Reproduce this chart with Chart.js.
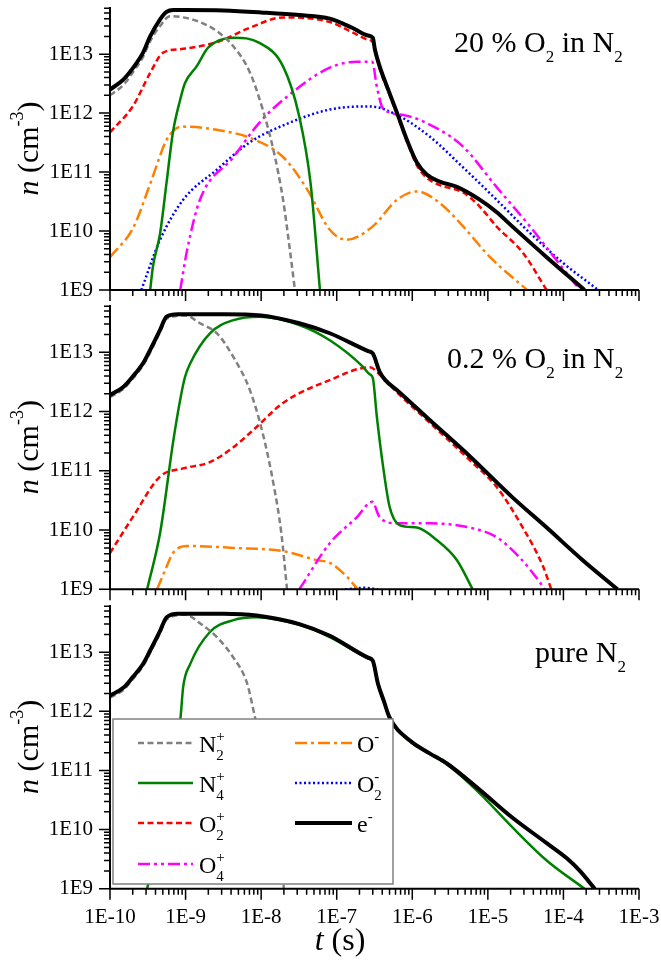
<!DOCTYPE html>
<html>
<head>
<meta charset="utf-8">
<script src="https://cdn.jsdelivr.net/npm/chart.js@4.4.0/dist/chart.umd.min.js"></script>
<style>
html, body { margin: 0; padding: 0; background: #fff; }
#wrap { position: relative; width: 661px; height: 965px; overflow: hidden; }
canvas { position: absolute; left: 0; }
</style>
</head>
<body>
<div id="wrap">
  <canvas id="c1" width="661" height="310" style="top:0px"></canvas>
  <canvas id="c2" width="661" height="310" style="top:300px"></canvas>
  <canvas id="c3" width="661" height="365" style="top:600px"></canvas>
</div>
<script>
// axis ticks
const xMajor = [1e-10, 1e-9, 1e-8, 1e-7, 1e-6, 1e-5, 1e-4, 1e-3];
const xLabels = ['1E-10', '1E-9', '1E-8', '1E-7', '1E-6', '1E-5', '1E-4', '1E-3'];
const yMajor = [1e9, 1e10, 1e11, 1e12, 1e13];
const yLabels = ['1E9', '1E10', '1E11', '1E12', '1E13'];
const yMax = 6.3e13;

// [t (s), n (cm^-3)] -- 20 % O2 in N2
const p1_e = [[1e-10,2.5e12],[1.5e-10,3.7e12],[2.03e-10,5.9e12],[2.75e-10,1.07e13],[3.4e-10,2.0e13],[4.6e-10,3.9e13],[5.6e-10,5.2e13],[6.9e-10,5.6e13],[1e-9,5.6e13],[3.2e-9,5.5e13],[1e-8,5.1e13],[3.2e-8,4.6e13],[8.1e-8,4.0e13],[1.6e-7,2.8e13],[2.6e-7,2.07e13],[3.0e-7,1.9e13],[3.2e-7,1.2e13],[3.7e-7,6.2e12],[4.8e-7,2.5e12],[6.3e-7,1.0e12],[8.5e-7,3.5e11],[1.15e-6,1.45e11],[1.55e-6,9.1e10],[2.3e-6,6.9e10],[3.9e-6,5.6e10],[7.8e-6,3.4e10],[1.3e-5,2.1e10],[2.1e-5,1.2e10],[6.0e-5,3.6e9],[1.9e-4,1e9]];
const p1_N2p = [[1e-10,2.0e12],[1.5e-10,3.0e12],[2.03e-10,5.0e12],[2.75e-10,9.1e12],[3.4e-10,1.66e13],[4.6e-10,3.0e13],[6.2e-10,4.4e13],[9.3e-10,4.2e13],[1.55e-9,3.5e13],[2.6e-9,2.45e13],[4.3e-9,1.35e13],[7.1e-9,4.9e12],[1.05e-8,1.15e12],[1.45e-8,2.4e11],[1.95e-8,3.4e10],[2.4e-8,4.8e9],[2.8e-8,1e9]];
const p1_N4p = [[3.4e-10,1e9],[3.7e-10,2.5e9],[4.6e-10,9.1e9],[5.6e-10,6.6e10],[6.8e-10,4.7e11],[8.5e-10,1.7e12],[9.8e-10,3.2e12],[1.4e-9,6.2e12],[2.0e-9,1.3e13],[4.3e-9,1.9e13],[9.5e-9,1.55e13],[1.95e-8,6.2e12],[3.2e-8,8.7e11],[4.5e-8,6.6e10],[6.0e-8,1e9]];
const p1_O2p = [[1e-10,4.7e11],[2.0e-10,1.3e12],[3.4e-10,4.8e12],[5.0e-10,1.05e13],[9.3e-10,1.23e13],[2.6e-9,1.6e13],[7.1e-9,2.8e13],[1.95e-8,4.2e13],[8.1e-8,3.5e13],[1.6e-7,2.35e13],[2.6e-7,1.75e13],[3.0e-7,1.6e13],[3.7e-7,5.6e12],[4.8e-7,2.35e12],[6.3e-7,9.5e11],[8.5e-7,3.3e11],[1.15e-6,1.3e11],[1.55e-6,8e10],[2.3e-6,6.0e10],[4.7e-6,4.5e10],[7.8e-6,2.6e10],[1.3e-5,1.2e10],[2.9e-5,4.3e9],[6.0e-5,1e9]];
const p1_O4p = [[8.5e-10,1e9],[1.05e-9,4.8e9],[1.55e-9,3.4e10],[4.3e-9,1.8e11],[9.5e-9,6.9e11],[2.2e-8,1.9e12],[8.1e-8,5.9e12],[1.85e-7,7.4e12],[2.95e-7,7.4e12],[3.4e-7,2.8e12],[4.1e-7,1.2e12],[7.6e-7,9.3e11],[2.3e-6,5.2e11],[4.7e-6,2.7e11],[1.3e-5,5.6e10],[3.6e-5,1.2e10],[8.1e-5,3.2e9],[1.65e-4,1e9]];
const p1_Om = [[1e-10,3.6e9],[2.04e-10,1.15e10],[3.4e-10,6.3e10],[5.6e-10,3.5e11],[7.5e-10,5.5e11],[9.3e-10,5.9e11],[2.6e-9,5.2e11],[7.1e-9,3.8e11],[1.95e-8,1.8e11],[4.1e-8,5.0e10],[8.1e-8,1.05e10],[1.35e-7,7.1e9],[3.0e-7,1.2e10],[6.3e-7,3.4e10],[1.15e-6,4.7e10],[2.3e-6,3.0e10],[4.7e-6,1.2e10],[1.07e-5,3.6e9],[3.3e-5,1e9]];
const p1_O2m = [[2.6e-10,1e9],[4.6e-10,7.1e9],[9.3e-10,3.4e10],[2.6e-9,1.1e11],[7.1e-9,3.2e11],[2.4e-8,6.9e11],[8.1e-8,1.15e12],[2.75e-7,1.3e12],[6.3e-7,9.3e11],[1.7e-6,4.0e11],[4.7e-6,1.2e11],[1.3e-5,3.4e10],[3.6e-5,9.3e9],[9.8e-5,2.9e9],[2.9e-4,1e9]];

// 0.2 % O2 in N2
const p2_e = [[1e-10,1.9e12],[1.5e-10,2.6e12],[2.0e-10,3.9e12],[2.75e-10,6.6e12],[3.4e-10,1.1e13],[4.6e-10,2.4e13],[5.6e-10,4.0e13],[7.9e-10,4.4e13],[3.2e-9,4.4e13],[1e-8,4.2e13],[3.2e-8,3.1e13],[8.1e-8,2.1e13],[2.6e-7,1.05e13],[3.0e-7,9.6e12],[3.7e-7,4.7e12],[4.4e-7,3.4e12],[6.3e-7,2.3e12],[1.7e-6,7.2e11],[5.8e-6,1.75e11],[2.1e-5,3.6e10],[6.0e-5,1.1e10],[1.8e-4,3.1e9],[5.2e-4,1e9]];
const p2_N2p = [[1e-10,1.75e12],[1.5e-10,2.4e12],[2.0e-10,3.6e12],[2.75e-10,6.1e12],[3.4e-10,1.0e13],[4.6e-10,2.2e13],[5.6e-10,3.7e13],[1e-9,4.2e13],[1.55e-9,3.1e13],[2.6e-9,2.1e13],[4.3e-9,8.3e12],[7.1e-9,2.3e12],[1.05e-8,4.3e11],[1.45e-8,6.2e10],[1.85e-8,8.9e9],[2.2e-8,1e9]];
const p2_N4p = [[3.1e-10,1e9],[4.6e-10,8.9e9],[6.9e-10,3.3e11],[8.5e-10,1.6e12],[9.8e-10,3.8e12],[1.15e-9,6.5e12],[2.1e-9,2.1e13],[4.3e-9,3.5e13],[9.5e-9,4.0e13],[3.2e-8,2.9e13],[8.1e-8,1.6e13],[2.2e-7,5.8e12],[2.7e-7,4.3e12],[3.0e-7,3.7e12],[3.4e-7,8.1e11],[4.1e-7,1.2e11],[5.0e-7,2.5e10],[6.9e-7,1.2e10],[1.15e-6,1.1e10],[2.1e-6,6.8e9],[3.9e-6,3.1e9],[6.3e-6,1e9]];
const p2_O2p = [[1e-10,4.1e9],[2.0e-10,1.65e10],[4.6e-10,8e10],[9.3e-10,1.1e11],[2.1e-9,1.4e11],[4.3e-9,2.5e11],[8.7e-9,5.5e11],[1.95e-8,1.4e12],[8.1e-8,3.4e12],[2.75e-7,5.6e12],[3.7e-7,4.2e12],[6.3e-7,2.1e12],[1.7e-6,6.5e11],[5.8e-6,1.5e11],[1.3e-5,5.4e10],[2.9e-5,1.1e10],[5.4e-5,2.4e9],[6.9e-5,1e9]];
const p2_O4p = [[3.2e-8,1e9],[8.1e-8,6.0e9],[1.85e-7,1.65e10],[2.95e-7,3.0e10],[3.7e-7,1.65e10],[6.3e-7,1.3e10],[1.7e-6,1.3e10],[5.8e-6,1.1e10],[1.3e-5,7.6e9],[2.6e-5,3.5e9],[4.9e-5,1.3e9],[5.6e-5,1e9]];
const p2_Om = [[4.2e-10,1e9],[5.6e-10,2.4e9],[6.8e-10,4.1e9],[1.05e-9,5.4e9],[4.3e-9,5.0e9],[1.95e-8,4.4e9],[5.5e-8,3.1e9],[8.1e-8,2.8e9],[1.35e-7,1.65e9],[1.9e-7,1e9]];
const p2_O2m = [[1.3e-7,1e9],[2.3e-7,1.06e9],[3.5e-7,1e9]];

// pure N2
const p3_e = [[1e-10,1.85e12],[1.5e-10,2.5e12],[2.0e-10,3.8e12],[2.75e-10,6.4e12],[3.4e-10,1.07e13],[4.6e-10,2.3e13],[5.6e-10,3.9e13],[7.9e-10,4.5e13],[3.2e-9,4.5e13],[8.7e-9,4.2e13],[3.2e-8,3.0e13],[8.1e-8,1.9e13],[2.6e-7,8.1e12],[3.0e-7,7.2e12],[3.5e-7,3.0e12],[4.2e-7,1.5e12],[5.0e-7,7.9e11],[9.3e-7,3.2e11],[1.7e-6,1.95e11],[2.9e-6,1.3e11],[7.8e-6,4.7e10],[2.1e-5,1.6e10],[6.0e-5,5.9e9],[1.1e-4,3.3e9],[1.65e-4,2.0e9],[2.6e-4,1e9]];
const p3_N2p = [[1e-10,1.7e12],[1.5e-10,2.3e12],[2.0e-10,3.5e12],[2.75e-10,5.9e12],[3.4e-10,9.8e12],[4.6e-10,2.1e13],[5.6e-10,3.6e13],[1e-9,4.3e13],[1.6e-9,3.0e13],[2.6e-9,1.8e13],[4.3e-9,8.1e12],[6.5e-9,3.0e12],[8.3e-9,7.9e11],[1.1e-8,1.6e11],[1.6e-8,1.6e10],[2.0e-8,1e9]];
const p3_N4p = [[3.1e-10,1e9],[4.6e-10,8.9e9],[6.8e-10,2.0e11],[8.5e-10,7.1e11],[9.3e-10,2.6e12],[1.15e-9,6.3e12],[2.1e-9,2.2e13],[4.3e-9,3.5e13],[8.7e-9,3.9e13],[3.2e-8,2.9e13],[8.1e-8,1.8e13],[2.6e-7,7.8e12],[3.0e-7,6.9e12],[3.5e-7,2.9e12],[4.2e-7,1.45e12],[5.0e-7,7.6e11],[9.3e-7,3.1e11],[1.7e-6,1.9e11],[2.9e-6,1.26e11],[7.8e-6,4.1e10],[2.1e-5,1.1e10],[6.0e-5,3.0e9],[1.9e-4,1e9]];

const styles = {
  e:   { color: '#000000', width: 4,   dash: [] },
  N2p: { color: '#808080', width: 2.5, dash: [6, 3.5] },
  N4p: { color: '#008000', width: 2.5, dash: [] },
  O2p: { color: '#ff0000', width: 2.5, dash: [6, 3.5] },
  O4p: { color: '#ff00ff', width: 2.5, dash: [12, 4, 3, 4, 3, 4] },
  Om:  { color: '#ff8000', width: 2.5, dash: [12, 4, 3, 4] },
  O2m: { color: '#0000ff', width: 2.5, dash: [2, 2.5] }
};

const FONT = '"Liberation Serif", "Times New Roman", serif';

function buildTicks(major, labels, max) {
  const out = [];
  major.forEach((v, i) => {
    for (let m = 1; m <= 9; m++) {
      const val = m * v;
      if (val > max * 1.0001) break;
      out.push({ value: val, major: m === 1, label: m === 1 ? labels[i] : '' });
    }
  });
  return out;
}

function line(key, pts) {
  const s = styles[key];
  return {
    data: pts.map(p => ({ x: p[0], y: p[1] })),
    borderColor: s.color,
    borderWidth: s.width,
    borderDash: s.dash,
    borderCapStyle: 'butt',
    borderJoinStyle: 'round',
    pointRadius: 0,
    fill: false,
    cubicInterpolationMode: 'monotone'
  };
}

// text with sub/superscripts
function drawRich(ctx, parts, x, y, o) {
  const big = it => (it ? 'italic ' : '') + o.size + 'px ' + FONT;
  const small = o.small + 'px ' + FONT;
  const w = parts.map(p => {
    ctx.font = big(p.i);
    const a = ctx.measureText(p.t).width;
    ctx.font = small;
    const b = Math.max(p.sub ? ctx.measureText(p.sub).width : 0, p.sup ? ctx.measureText(p.sup).width : 0);
    return [a, b];
  });
  const total = w.reduce((s, v) => s + v[0] + v[1], 0);
  let cx = o.center ? x - total / 2 : x;
  ctx.textAlign = 'left';
  ctx.textBaseline = 'alphabetic';
  ctx.fillStyle = '#000';
  parts.forEach((p, k) => {
    ctx.font = big(p.i);
    ctx.fillText(p.t, cx, y);
    cx += w[k][0];
    ctx.font = small;
    if (p.sub) ctx.fillText(p.sub, cx, y + o.subDy);
    if (p.sup) ctx.fillText(p.sup, cx, y + o.supDy);
    cx += w[k][1];
  });
}

const legendItems = [
  { key: 'N2p', parts: [{ t: 'N', sub: '2', sup: '+' }], col: 0, row: 0 },
  { key: 'N4p', parts: [{ t: 'N', sub: '4', sup: '+' }], col: 0, row: 1 },
  { key: 'O2p', parts: [{ t: 'O', sub: '2', sup: '+' }], col: 0, row: 2 },
  { key: 'O4p', parts: [{ t: 'O', sub: '4', sup: '+' }], col: 0, row: 3 },
  { key: 'Om',  parts: [{ t: 'O', sup: '-' }], col: 1, row: 0 },
  { key: 'O2m', parts: [{ t: 'O', sub: '2', sup: '-' }], col: 1, row: 1 },
  { key: 'e',   parts: [{ t: 'e', sup: '-' }], col: 1, row: 2 }
];

function makeDecor(cfg) {
  return {
    id: 'decor',
    afterDraw(chart) {
      const ctx = chart.ctx, a = chart.chartArea;
      const sx = chart.scales.x, sy = chart.scales.y;
      ctx.save();
      ctx.strokeStyle = '#000';
      ctx.setLineDash([]);
      ctx.lineWidth = 1.5;
      ctx.beginPath();
      sx.ticks.forEach(t => {
        const p = sx.getPixelForValue(t.value);
        ctx.moveTo(p, a.bottom);
        ctx.lineTo(p, a.bottom + (t.major ? 11 : 6));
      });
      sy.ticks.forEach(t => {
        const p = sy.getPixelForValue(t.value);
        ctx.moveTo(a.left, p);
        ctx.lineTo(a.left - (t.major ? 11 : 6), p);
      });
      ctx.stroke();
      ctx.lineWidth = 2;
      ctx.beginPath();
      ctx.moveTo(a.left, a.top);
      ctx.lineTo(a.left, a.bottom);
      ctx.lineTo(a.right, a.bottom);
      ctx.stroke();

      // y title
      ctx.save();
      ctx.translate(38, (a.top + a.bottom) / 2);
      ctx.rotate(-Math.PI / 2);
      drawRich(ctx, [{ t: 'n', i: true }, { t: ' (cm', sup: '-3' }, { t: ')' }], 0, 0,
        { size: 30, small: 18, supDy: -15, subDy: 0, center: true });
      ctx.restore();

      // panel label
      drawRich(ctx, cfg.label, cfg.labelX, cfg.labelY, { size: 30, small: 17, subDy: 10, supDy: -12 });

      if (cfg.legend) {
        const bx = 113, by = 119, bw = 280, bh = 165;
        ctx.fillStyle = '#fff';
        ctx.fillRect(bx, by, bw, bh);
        ctx.strokeStyle = '#808080';
        ctx.lineWidth = 1.5;
        ctx.strokeRect(bx, by, bw, bh);
        const rowY = [143, 183, 223, 264];
        const colX = [[138, 193, 199], [295, 352, 357]];
        legendItems.forEach(it => {
          const s = styles[it.key];
          const [x1, x2, tx] = colX[it.col];
          const y = rowY[it.row];
          ctx.strokeStyle = s.color;
          ctx.lineWidth = s.width;
          ctx.setLineDash(s.dash);
          ctx.lineCap = 'butt';
          ctx.beginPath();
          ctx.moveTo(x1, y);
          ctx.lineTo(x2, y);
          ctx.stroke();
          ctx.setLineDash([]);
          drawRich(ctx, it.parts, tx, y + 9, { size: 24, small: 15, subDy: 8, supDy: -11 });
        });
      }

      if (cfg.xTitle) {
        drawRich(ctx, [{ t: 't', i: true }, { t: ' (s)' }], 340, 350, { size: 32, small: 18, subDy: 0, supDy: 0, center: true });
      }
      ctx.restore();
    }
  };
}

function zeroPad(s) {
  s.paddingLeft = 0; s.paddingRight = 0; s.paddingTop = 0; s.paddingBottom = 0;
}

function makeChart(id, datasets, cfg) {
  const canvas = document.getElementById(id);
  const H = canvas.height;
  return new Chart(canvas, {
    type: 'line',
    data: { datasets: datasets },
    options: {
      responsive: false,
      maintainAspectRatio: false,
      devicePixelRatio: 1,
      animation: false,
      events: [],
      layout: { padding: { left: 0, right: 22, top: cfg.top, bottom: 0 } },
      plugins: { legend: { display: false }, tooltip: { enabled: false } },
      scales: {
        x: {
          type: 'logarithmic',
          min: 1e-10,
          max: 1e-3,
          grid: { display: false, drawTicks: false },
          border: { display: false },
          afterBuildTicks: s => { s.ticks = buildTicks(xMajor, xLabels, 1e-3); },
          afterFit: s => { s.height = H - cfg.bottom; zeroPad(s); },
          ticks: {
            display: cfg.xLabels,
            autoSkip: false,
            maxRotation: 0,
            minRotation: 0,
            padding: 16,
            color: '#000',
            font: { family: FONT, size: 21 },
            callback: (v, i, t) => t[i].label
          }
        },
        y: {
          type: 'logarithmic',
          min: 1e9,
          max: yMax,
          grid: { display: false, drawTicks: false },
          border: { display: false },
          afterBuildTicks: s => { s.ticks = buildTicks(yMajor, yLabels, yMax); },
          afterFit: s => { s.width = 110; zeroPad(s); },
          ticks: {
            autoSkip: false,
            padding: 17,
            color: '#000',
            font: { family: FONT, size: 21 },
            callback: (v, i, t) => t[i].label
          }
        }
      }
    },
    plugins: [makeDecor(cfg)]
  });
}

makeChart('c1', [
  line('e', p1_e), line('N2p', p1_N2p), line('N4p', p1_N4p), line('O2p', p1_O2p),
  line('O4p', p1_O4p), line('Om', p1_Om), line('O2m', p1_O2m)
], { top: 7, bottom: 290, xLabels: false,
     label: [{ t: '20 % O', sub: '2' }, { t: ' in N', sub: '2' }], labelX: 454, labelY: 52 });

makeChart('c2', [
  line('e', p2_e), line('N2p', p2_N2p), line('N4p', p2_N4p), line('O2p', p2_O2p),
  line('O4p', p2_O4p), line('Om', p2_Om), line('O2m', p2_O2m)
], { top: 5, bottom: 289.3, xLabels: false,
     label: [{ t: '0.2 % O', sub: '2' }, { t: ' in N', sub: '2' }], labelX: 447, labelY: 68 });

makeChart('c3', [
  line('e', p3_e), line('N2p', p3_N2p), line('N4p', p3_N4p)
], { top: 5, bottom: 288.7, xLabels: true, legend: true, xTitle: true,
     label: [{ t: 'pure N', sub: '2' }], labelX: 535, labelY: 62 });
</script>
</body>
</html>
